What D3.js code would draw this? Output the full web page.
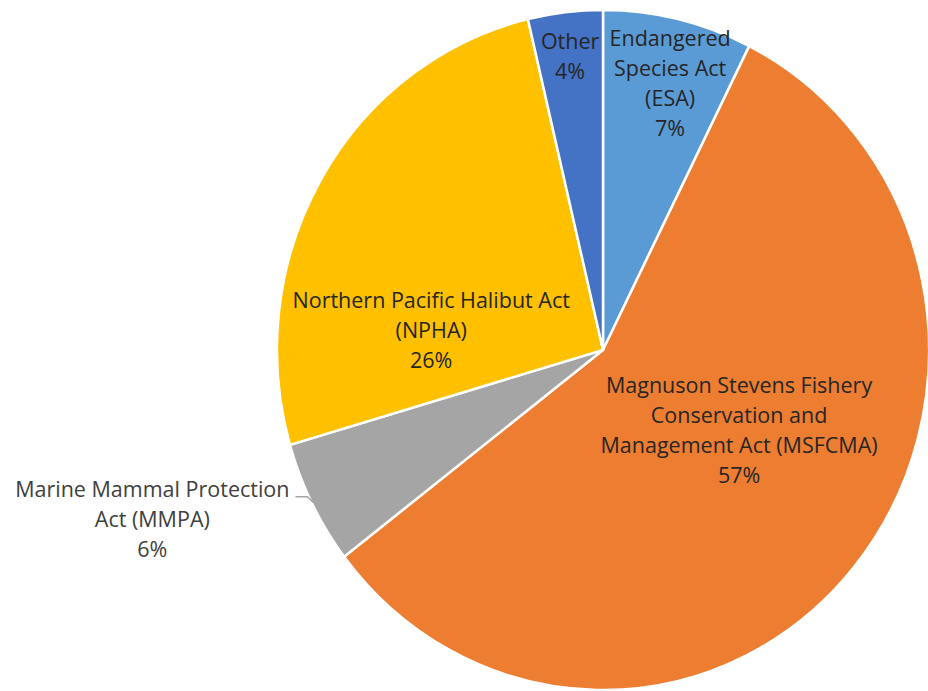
<!DOCTYPE html>
<html>
<head>
<meta charset="utf-8">
<script src="https://cdn.jsdelivr.net/npm/d3@7"></script>
<style>
  body { margin: 0; background: #fff; }
  svg { display: block; }
</style>
</head>
<body>
<div id="chart"></div>
<script>
// Data (percent shares, clockwise from 12 o'clock)
var categories = ["ESA", "MSFCMA", "MMPA", "NPHA", "Other"];
var shares = [7.4, 57.2, 5.9, 25.8, 3.7];
var colors = ["#5B9BD5", "#ED7D31", "#A5A5A5", "#FFC000", "#4472C4"];
var labelLines = [
  ["Endangered", "Species Act", "(ESA)"],
  ["Magnuson Stevens Fishery", "Conservation and", "Management Act (MSFCMA)"],
  ["Marine Mammal Protection", "Act (MMPA)"],
  ["Northern Pacific Halibut Act", "(NPHA)"],
  ["Other"]
];

// label placement: shift from mid-angle (deg) and radius fraction; outside = leader line
var labelLayout = {
  ESA: { shift: 1.4, r: 0.81 },
  MSFCMA: { shift: -10, r: 0.48 },
  MMPA: { outside: true },
  NPHA: { shift: -24, r: 0.53 },
  Other: { shift: 0, r: 0.87 }
};

var width = 928, height = 691;
var cx = 603, cy = 350;
var radius = 340;
var sx = 0.959; // the pie is slightly squeezed horizontally
var lineH = 30;
var fmt = d3.format(".0%");
var total = d3.sum(shares);

var svg = d3.select("#chart")
  .append("svg")
  .attr("width", width)
  .attr("height", height);

var pieData = categories.map(function (c, i) {
  return { name: c, value: shares[i], color: colors[i], lines: labelLines[i] };
});

var pie = d3.pie()
  .value(function (d) { return d.value; })
  .sort(null);

var arc = d3.arc()
  .innerRadius(0)
  .outerRadius(radius);

var arcs = pie(pieData);

// Draw slices
var g = svg.append("g")
  .attr("transform", "translate(" + cx + "," + cy + ") scale(" + sx + ",1)");

g.selectAll("path")
  .data(arcs)
  .enter()
  .append("path")
  .attr("d", arc)
  .attr("fill", function (d) { return d.data.color; })
  .attr("stroke", "#fff")
  .attr("stroke-width", 2.5)
  .attr("vector-effect", "non-scaling-stroke");

// point on the (squeezed) pie for angle a (radians) and radius fraction f
function pt(a, f) {
  return [cx + Math.sin(a) * radius * f * sx, cy - Math.cos(a) * radius * f];
}

var labels = svg.append("g")
  .attr("font-family", "'Open Sans', 'Noto Sans', sans-serif")
  .attr("font-size", "21.5px")
  .attr("text-anchor", "middle");

arcs.forEach(function (d) {
  var lay = labelLayout[d.data.name];
  var lines = d.data.lines.concat([fmt(d.data.value / total)]);
  var mid = (d.startAngle + d.endAngle) / 2;
  var t = labels.append("text");

  if (!lay.outside) {
    var p = pt(mid + lay.shift * Math.PI / 180, lay.r);
    t.attr("fill", "#262626");
    lines.forEach(function (s, i) {
      t.append("tspan")
        .attr("x", p[0])
        .attr("y", p[1] + (i - (lines.length - 1) / 2) * lineH)
        .attr("dy", "0.36em")
        .text(s);
    });
  } else {
    // leader line from the slice edge, then a short horizontal run
    var e = pt(mid, 0.995);
    var elbow = [e[0] - 6, e[1] - 6];
    var end = [elbow[0] - 12, elbow[1]];
    svg.append("polyline")
      .attr("points", [e, elbow, end].map(function (q) { return q.join(","); }).join(" "))
      .attr("fill", "none")
      .attr("stroke", "#A6A6A6")
      .attr("stroke-width", 1.5);

    t.attr("fill", "#404040");
    var spans = lines.map(function (s, i) {
      return t.append("tspan")
        .attr("y", end[1] + i * lineH)
        .attr("dy", "0")
        .text(s);
    });
    var w = d3.max(spans, function (s) { return s.node().getComputedTextLength(); });
    var bx = end[0] - 6 - w / 2;
    spans.forEach(function (s) { s.attr("x", bx); });
  }
});
</script>
</body>
</html>
